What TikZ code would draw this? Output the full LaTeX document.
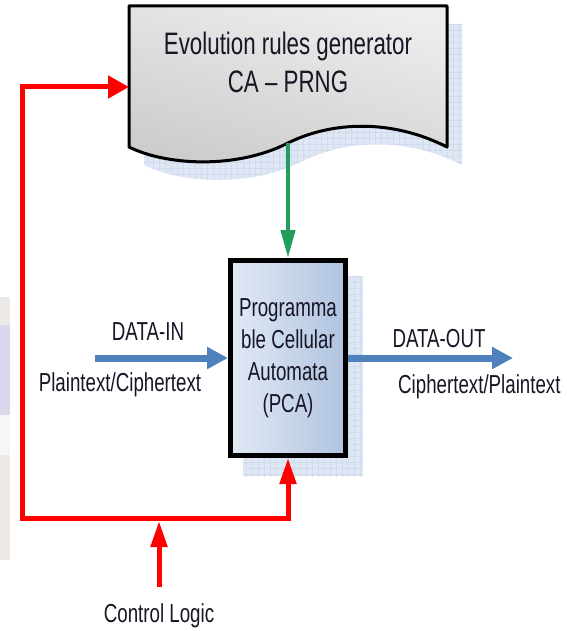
\documentclass[tikz,border=0pt]{standalone}
\usepackage{fontspec}
\setmainfont{Liberation Sans}[FakeStretch=0.72]
\usetikzlibrary{arrows.meta}
\definecolor{flowblue}{RGB}{79,129,189}
\definecolor{flowgreen}{RGB}{36,158,92}
\definecolor{shadowblue}{RGB}{223,231,244}
\definecolor{gridblue}{RGB}{208,219,238}
\definecolor{txt}{RGB}{22,22,38}
\definecolor{fraggray}{RGB}{236,233,230}
\definecolor{fraglav}{RGB}{218,214,236}
\definecolor{pcaL}{RGB}{226,233,245}
\definecolor{pcaR}{RGB}{176,195,223}
\begin{document}
\begin{tikzpicture}[x=1pt,y=-1pt,
  redline/.style={draw=red, line width=5pt, line cap=rect},
  redtipwide/.style={-{Triangle[length=21pt,width=22pt]}},
  redtipnarrow/.style={-{Triangle[length=26pt,width=16pt]}},
  bluearrow/.style={draw=flowblue, line width=7pt, -{Triangle[length=21pt,width=21pt]}},
  greenarrow/.style={draw=flowgreen, line width=4pt, -{Triangle[length=28pt,width=14pt]}},
  labeltext/.style={font=\fontsize{26}{32}\selectfont, text=txt, inner sep=0pt},
  titletext/.style={font=\fontsize{31}{38}\selectfont, text=txt, inner sep=0pt},
  pcabox/.style={draw=black, line width=5pt, minimum width=115pt, minimum height=195pt,
    inner sep=0pt, outer sep=2.5pt, left color=pcaL, right color=pcaR,
    align=center, font=\fontsize{26}{32}\selectfont, text=txt},
  shadowfill/.style={fill=shadowblue}
]
\useasboundingbox (0,0) rectangle (566,631);
\fill[white] (0,0) rectangle (566,631);

% faint fragment at the left edge
\fill[fraggray] (0,297) rectangle (10,325);
\fill[fraglav] (0,325) rectangle (10,415);
\fill[fraggray!40] (0,415) rectangle (10,455);
\fill[fraggray] (0,455) rectangle (10,560);

% shadow of the document shape
\begin{scope}[shift={(15,18)}]
  \fill[shadowblue] (129,6) -- (447,6) -- (447,147)
    .. controls (390,118) and (330,122) .. (288,143)
    .. controls (235,170) and (165,165) .. (129,147) -- cycle;
  \clip (129,6) -- (447,6) -- (447,147)
    .. controls (390,118) and (330,122) .. (288,143)
    .. controls (235,170) and (165,165) .. (129,147) -- cycle;
  \draw[gridblue, line width=0.4pt, step=6pt] (120,0) grid (460,180);
\end{scope}

% shadow of the PCA box
\begin{scope}
  \fill[shadowblue] (243,276) rectangle (363,476);
  \clip (243,276) rectangle (363,476);
  \draw[gridblue, line width=0.4pt, step=6pt] (240,270) grid (370,480);
\end{scope}

% document shape (evolution rules generator)
\shade[top color=gray!14, bottom color=gray!40, shading angle=-15]
  (129,6) -- (447,6) -- (447,147)
  .. controls (390,118) and (330,122) .. (288,143)
  .. controls (235,170) and (165,165) .. (129,147) -- cycle;
\draw[black, line width=3pt, line join=round]
  (129,6) -- (447,6) -- (447,147)
  .. controls (390,118) and (330,122) .. (288,143)
  .. controls (235,170) and (165,165) .. (129,147) -- cycle;
\node[titletext, anchor=base] (gen1) at (288,55) {Evolution rules generator};
\node[titletext, anchor=base] (gen2) at (288,93) {CA – PRNG};

% PCA box
\node[pcabox] (pca) at (288,358) {Programma\\ble Cellular\\Automata\\(PCA)};

% coordinates
\coordinate (genL) at (129,87);
\coordinate (genB) at (288,143);
\coordinate (jBL) at (22,518);
\coordinate (ctlS) at (159,587);
\coordinate (ctlT) at (159,521);
\coordinate (inS) at (95,358);
\coordinate (outE) at (513,358);

% green arrow
\draw[greenarrow] (genB) -- (pca.north);

% data arrows
\draw[bluearrow] (inS) -- (pca.west);
\draw[bluearrow] (pca.east) -- (outE);

% red control loop
\draw[redline, redtipwide] (jBL) |- (genL);
\draw[redline, redtipnarrow] (jBL) -| (pca.south);
\draw[redline, line cap=butt, redtipnarrow] (ctlS) -- (ctlT);

% labels
\node[labeltext, anchor=base] (din) at (148,340) {DATA-IN};
\node[labeltext, anchor=base] (pin) at (120,391) {Plaintext/Ciphertext};
\node[labeltext, anchor=base] (dout) at (439,347) {DATA-OUT};
\node[labeltext, anchor=base west] (pout) at (398,393) {Ciphertext/Plaintext};
\node[labeltext, anchor=base] (ctl) at (159,622) {Control Logic};
\end{tikzpicture}
\end{document}
